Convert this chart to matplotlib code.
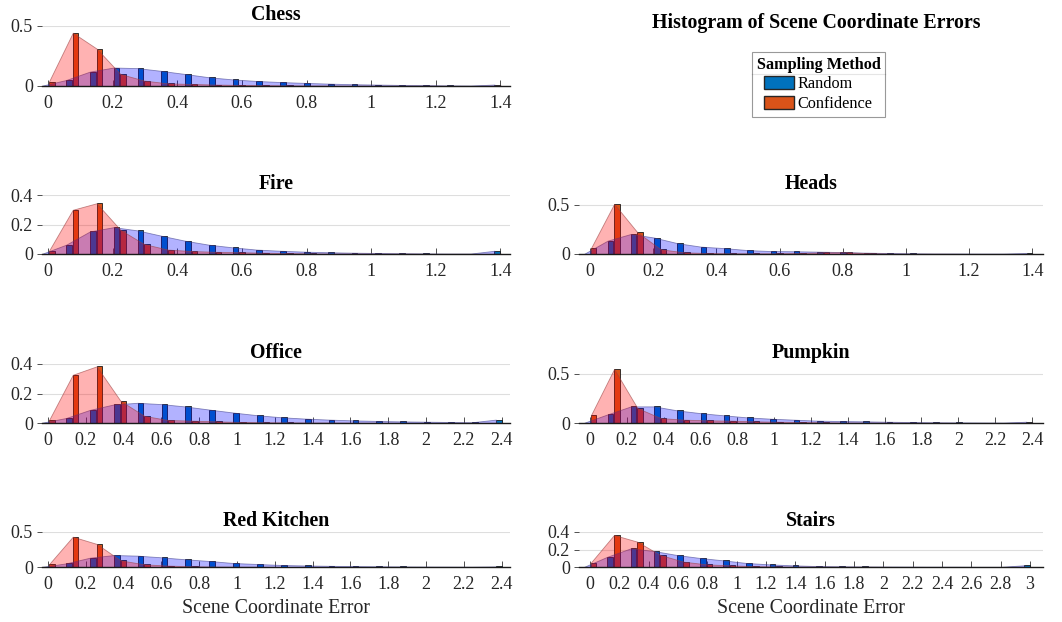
import numpy as np
import matplotlib
matplotlib.use("Agg")
import matplotlib.pyplot as plt
from matplotlib.patches import Patch
from matplotlib.lines import Line2D
from matplotlib.ticker import FormatStrFormatter

plt.rcParams["font.family"] = ["Liberation Serif", "DejaVu Serif"]

# histogram values per scene, 20 bins from 0 to the scene's max error
scenes = ["Chess", "Fire", "Heads", "Office", "Pumpkin", "Red Kitchen", "Stairs"]
max_error = [1.4, 1.4, 1.4, 2.4, 2.4, 2.4, 3.0]

chess_random = [0.003, 0.05, 0.12, 0.154, 0.149, 0.126, 0.1, 0.073, 0.055, 0.042,
                0.033, 0.026, 0.02, 0.015, 0.012, 0.009, 0.007, 0.005, 0.004, 0.012]
chess_conf = [0.037, 0.444, 0.312, 0.1, 0.045, 0.022, 0.017, 0.012, 0.009, 0.007,
              0.005, 0.004, 0.003, 0.003, 0.002, 0.002, 0.002, 0.001, 0.001, 0.003]

fire_random = [0.002, 0.063, 0.153, 0.182, 0.16, 0.124, 0.09, 0.063, 0.045, 0.03,
               0.022, 0.016, 0.012, 0.009, 0.007, 0.005, 0.004, 0.003, 0.003, 0.022]
fire_conf = [0.022, 0.30, 0.344, 0.164, 0.067, 0.03, 0.02, 0.015, 0.012, 0.009,
             0.006, 0.004, 0.003, 0.003, 0.002, 0.002, 0.001, 0.001, 0.001, 0.002]

heads_random = [0.003, 0.136, 0.204, 0.167, 0.11, 0.075, 0.06, 0.04, 0.03, 0.028,
                0.024, 0.02, 0.014, 0.01, 0.007, 0.005, 0.005, 0.004, 0.004, 0.01]
heads_conf = [0.058, 0.51, 0.22, 0.048, 0.017, 0.01, 0.007, 0.007, 0.007, 0.01,
              0.017, 0.017, 0.008, 0.003, 0.002, 0.002, 0.001, 0.001, 0.001, 0.002]

office_random = [0.002, 0.034, 0.089, 0.126, 0.137, 0.128, 0.112, 0.091, 0.071, 0.053,
                 0.039, 0.03, 0.023, 0.018, 0.014, 0.011, 0.009, 0.007, 0.005, 0.023]
office_conf = [0.018, 0.327, 0.384, 0.15, 0.048, 0.02, 0.016, 0.011, 0.007, 0.005,
               0.004, 0.003, 0.003, 0.002, 0.002, 0.001, 0.001, 0.001, 0.001, 0.002]

pumpkin_random = [0.003, 0.088, 0.169, 0.169, 0.128, 0.1, 0.078, 0.057, 0.044, 0.034,
                  0.024, 0.02, 0.017, 0.013, 0.01, 0.007, 0.006, 0.005, 0.004, 0.013]
pumpkin_conf = [0.078, 0.55, 0.152, 0.05, 0.034, 0.027, 0.024, 0.017, 0.013, 0.01,
                0.007, 0.005, 0.004, 0.003, 0.002, 0.002, 0.001, 0.001, 0.001, 0.003]

kitchen_random = [0.002, 0.052, 0.133, 0.171, 0.162, 0.138, 0.11, 0.086, 0.057, 0.043,
                  0.029, 0.022, 0.017, 0.013, 0.01, 0.008, 0.006, 0.005, 0.004, 0.008]
kitchen_conf = [0.038, 0.433, 0.33, 0.095, 0.038, 0.02, 0.01, 0.006, 0.004, 0.003,
                0.002, 0.002, 0.001, 0.001, 0.001, 0.001, 0.001, 0.001, 0.001, 0.001]

stairs_random = [0.003, 0.118, 0.213, 0.183, 0.137, 0.103, 0.076, 0.046, 0.03, 0.019,
                 0.011, 0.008, 0.006, 0.005, 0.004, 0.003, 0.003, 0.002, 0.002, 0.02]
stairs_conf = [0.05, 0.366, 0.29, 0.137, 0.061, 0.03, 0.019, 0.01, 0.006, 0.004,
               0.003, 0.002, 0.002, 0.001, 0.001, 0.001, 0.001, 0.001, 0.001, 0.002]

random_vals = [chess_random, fire_random, heads_random, office_random,
               pumpkin_random, kitchen_random, stairs_random]
conf_vals = [chess_conf, fire_conf, heads_conf, office_conf,
             pumpkin_conf, kitchen_conf, stairs_conf]
y_max = [0.5, 0.4, 0.6, 0.4, 0.6, 0.5, 0.4]
y_ticks = [[0, 0.5], [0, 0.2, 0.4], [0, 0.5], [0, 0.2, 0.4], [0, 0.5], [0, 0.5], [0, 0.2, 0.4]]

BLUE = "#0072BD"
RED = "#D95319"

W, H = 1062, 622
fig = plt.figure(figsize=(W / 100, H / 100), dpi=100)

# axes boxes in pixels: (left, right, top, bottom)
left_col = (42, 510)
right_col = (579, 1043)
boxes = [
    (left_col, 26, 86),
    (left_col, 195, 254),
    (right_col, 195, 254),
    (left_col, 364, 423),
    (right_col, 364, 423),
    (left_col, 532, 567),
    (right_col, 532, 567),
]
x_limits = [(-0.019, 1.43), (-0.019, 1.43), (-0.035, 1.434), (-0.032, 2.444),
            (-0.06, 2.46), (-0.032, 2.444), (-0.075, 3.088)]

for i, name in enumerate(scenes):
    (x0, x1), top, bottom = boxes[i]
    ax = fig.add_axes([x0 / W, 1 - bottom / H, (x1 - x0) / W, (bottom - top) / H])
    rnd = np.array(random_vals[i])
    cnf = np.array(conf_vals[i])
    centers = np.linspace(0, max_error[i], len(rnd))
    s = centers[1] - centers[0]

    ax.bar(centers - 0.125 * s, rnd, width=0.24 * s, color=BLUE, edgecolor="0.1",
           linewidth=0.6, zorder=2)
    ax.bar(centers + 0.155 * s, cnf, width=0.24 * s, color=RED, edgecolor="0.1",
           linewidth=0.6, zorder=2)
    ax.fill_between(centers - 0.245 * s, rnd, 0, facecolor=(0, 0, 1, 0.3),
                    edgecolor=(0.25, 0.25, 0.55, 0.6), linewidth=0.6, zorder=3)
    ax.fill_between(centers + 0.035 * s, cnf, 0, facecolor=(1, 0, 0, 0.3),
                    edgecolor=(0.6, 0.25, 0.25, 0.6), linewidth=0.6, zorder=3)

    ax.set_xlim(*x_limits[i])
    ax.set_ylim(0, y_max[i])
    ax.set_xticks(np.arange(0, max_error[i] + 1e-9, 0.2))
    ax.set_yticks(y_ticks[i])
    ax.xaxis.set_major_formatter(FormatStrFormatter("%g"))
    ax.yaxis.set_major_formatter(FormatStrFormatter("%g"))
    ax.yaxis.grid(True, color="0.87", linewidth=0.8)
    ax.set_axisbelow(True)
    for sp in ["left", "top", "right"]:
        ax.spines[sp].set_visible(False)
    ax.spines["bottom"].set_color("0.1")
    ax.spines["bottom"].set_linewidth(1.0)
    ax.spines["bottom"].set_zorder(4)
    ax.tick_params(axis="x", direction="in", length=4, width=0.6, color="0.2",
                   labelsize=13, pad=6.5, labelcolor="0.15")
    ax.tick_params(axis="y", direction="out", length=3.5, width=0.6, color="0.2",
                   labelsize=13, pad=3, labelcolor="0.15")
    ax.set_title(name, fontsize=14.3, fontweight="bold", pad=4.5)
    if i >= 5:
        ax.set_xlabel("Scene Coordinate Error", fontsize=14.3, labelpad=4, color="0.15")

fig.text(816 / W, 1 - 23.3 / H, "Histogram of Scene Coordinate Errors",
         ha="center", va="center", fontsize=14.3, fontweight="bold")

handles = [Patch(facecolor=BLUE, edgecolor="0.15", label="Random"),
           Patch(facecolor=RED, edgecolor="0.15", label="Confidence")]
leg = fig.legend(handles=handles, title="Sampling Method", loc="upper left",
                 bbox_to_anchor=(751.7 / W, 1 - 51.7 / H), frameon=True,
                 fancybox=False, edgecolor="0.5", fontsize=11.7,
                 title_fontproperties={"weight": "bold", "size": 11.7},
                 handlelength=1.85, handleheight=0.86, handletextpad=0.2,
                 borderpad=0.3, labelspacing=0.22, borderaxespad=0)
leg.get_frame().set_linewidth(0.8)

# line under legend title
fig.canvas.draw()
fb = leg.get_frame().get_window_extent()
tb = leg.get_title().get_window_extent()
y_sep = tb.y0 - 1
fig.add_artist(Line2D([fb.x0 / W, fb.x1 / W], [y_sep / H, y_sep / H],
                      transform=fig.transFigure, color="0.5", linewidth=0.8))

fig.savefig("out.png", dpi=100)
